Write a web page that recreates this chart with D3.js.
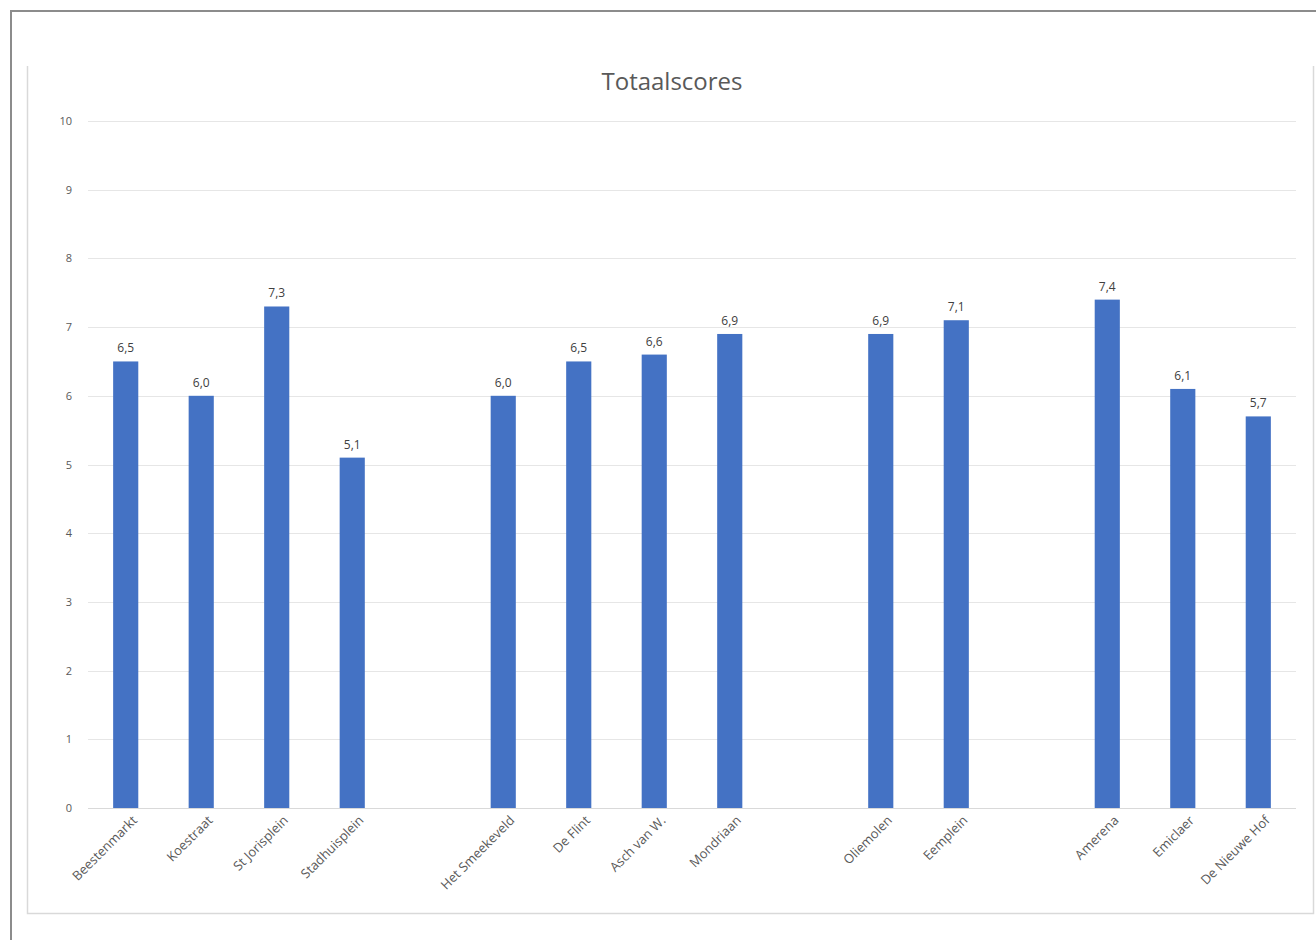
<!DOCTYPE html>
<html><head><meta charset="utf-8">
<script src="https://cdn.jsdelivr.net/npm/d3@7"></script>
<style>
html,body{margin:0;padding:0;background:#fff;}
svg{display:block;font-family:"Open Sans","Noto Sans",sans-serif;}
</style></head>
<body><svg id="chart" width="1316" height="940"></svg>
<script>
// slots include empty gap slots (named with leading "_gap")
const categories = ["Beestenmarkt","Koestraat","St Jorisplein","Stadhuisplein","_gap1",
  "Het Smeekeveld","De Flint","Asch van W.","Mondriaan","_gap2",
  "Oliemolen","Eemplein","_gap3",
  "Amerena","Emiclaer","De Nieuwe Hof"];
const values = [6.5,6.0,7.3,5.1,null,6.0,6.5,6.6,6.9,null,6.9,7.1,null,7.4,6.1,5.7];
const valueLabels = ["6,5","6,0","7,3","5,1","","6,0","6,5","6,6","6,9","","6,9","7,1","","7,4","6,1","5,7"];
const yTicks = [0,1,2,3,4,5,6,7,8,9,10];
const title = "Totaalscores";

const svg = d3.select("#chart");
// outer frame
svg.append("rect").attr("x",11).attr("y",11).attr("width",1316).attr("height",940)
  .attr("fill","none").attr("stroke","#8c8c8c").attr("stroke-width",2);
// chart area border
svg.append("path").attr("d","M27.5,66 V913.5 H1313.5 V66")
  .attr("fill","none").attr("stroke","#d9d9d9").attr("stroke-width",1.5);

const x = d3.scaleBand().domain(categories).range([88,1296]).paddingInner(0.667).paddingOuter(0.333);
const y = d3.scaleLinear().domain([0,10]).range([808,121]);

// gridlines
svg.append("g").selectAll("line").data(yTicks).join("line")
  .attr("x1",88).attr("x2",1296)
  .attr("y1",d=>Math.round(y(d))+0.5).attr("y2",d=>Math.round(y(d))+0.5)
  .attr("stroke",d=>d===0?"#d9d9d9":"#e6e6e6").attr("stroke-width",1);

// y axis labels
const yAxis = d3.axisLeft(y).tickValues(yTicks).tickSize(0).tickPadding(0).tickFormat(d3.format("d"));
const gy = svg.append("g").attr("transform","translate(72,0)").call(yAxis);
gy.select(".domain").remove();
gy.selectAll("text").attr("fill","#595959").attr("font-size",11).attr("font-family","'Open Sans','Noto Sans',sans-serif");

// bars
const data = categories.map((c,i)=>({c,v:values[i],l:valueLabels[i]})).filter(d=>d.v!=null);
svg.append("g").selectAll("rect").data(data).join("rect")
  .attr("x",d=>x(d.c)).attr("width",x.bandwidth())
  .attr("y",d=>y(d.v)).attr("height",d=>y(0)-y(d.v))
  .attr("fill","#4472C4");

// value labels
svg.append("g").selectAll("text").data(data).join("text")
  .attr("x",d=>x(d.c)+x.bandwidth()/2).attr("y",d=>y(d.v)-9)
  .attr("text-anchor","middle").attr("font-size",12).attr("fill","#404040")
  .text(d=>d.l);

// x labels
const xAxis = d3.axisBottom(x).tickSize(0).tickPadding(0);
const gx = svg.append("g").attr("transform","translate(0,818)").call(xAxis);
gx.select(".domain").remove();
gx.selectAll(".tick").filter(d=>d.startsWith("_gap")).remove();
gx.selectAll("text")
  .attr("transform","translate(9,0) rotate(-45)")
  .attr("text-anchor","end").attr("dx",0).attr("dy","0.35em").attr("x",0).attr("y",0)
  .attr("fill","#595959").attr("font-size",13).attr("font-family","'Open Sans','Noto Sans',sans-serif");

// title
svg.append("text").attr("x",672).attr("y",90).attr("text-anchor","middle")
  .attr("font-size",24).attr("fill","#595959").text(title);
</script></body></html>
